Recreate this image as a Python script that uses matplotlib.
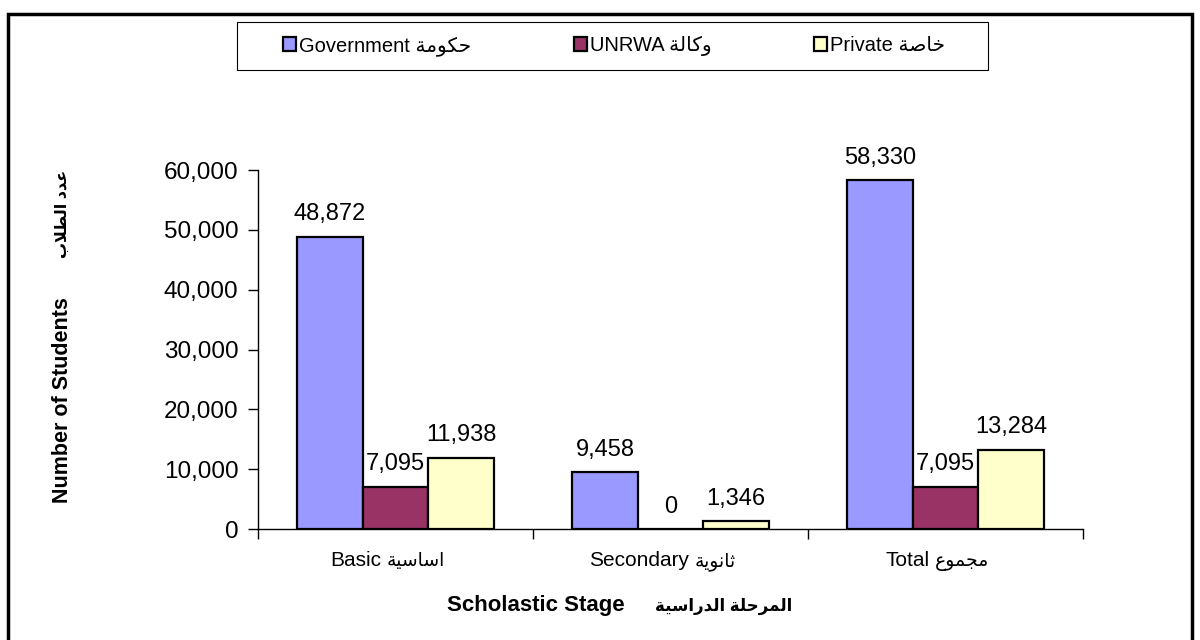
import matplotlib
matplotlib.use("Agg")
import matplotlib.pyplot as plt
from matplotlib.patches import Rectangle
from matplotlib.ticker import FuncFormatter
from matplotlib.offsetbox import TextArea, HPacker, AnnotationBbox
import numpy as np

plt.rcParams['font.family'] = ['Liberation Sans', 'DejaVu Sans']

# data
stages_en = ['Basic', 'Secondary', 'Total']
stages_ar = ['اساسية', 'ثانوية', 'مجموع']
series_en = ['Government', 'UNRWA', 'Private']
series_ar = ['حكومة', 'وكالة', 'خاصة']
government = [48872, 9458, 58330]
unrwa = [7095, 0, 7095]
private = [11938, 1346, 13284]
colors = ['#9999FF', '#993366', '#FFFFCC']

# arabic presentation forms: isolated, final, initial, medial
FORMS = {
    'ا': (0xFE8D, 0xFE8E, None, None),
    'ب': (0xFE8F, 0xFE90, 0xFE91, 0xFE92),
    'ة': (0xFE93, 0xFE94, None, None),
    'ث': (0xFE99, 0xFE9A, 0xFE9B, 0xFE9C),
    'ج': (0xFE9D, 0xFE9E, 0xFE9F, 0xFEA0),
    'ح': (0xFEA1, 0xFEA2, 0xFEA3, 0xFEA4),
    'خ': (0xFEA5, 0xFEA6, 0xFEA7, 0xFEA8),
    'د': (0xFEA9, 0xFEAA, None, None),
    'ر': (0xFEAD, 0xFEAE, None, None),
    'س': (0xFEB1, 0xFEB2, 0xFEB3, 0xFEB4),
    'ص': (0xFEB9, 0xFEBA, 0xFEBB, 0xFEBC),
    'ط': (0xFEC1, 0xFEC2, 0xFEC3, 0xFEC4),
    'ع': (0xFEC9, 0xFECA, 0xFECB, 0xFECC),
    'ك': (0xFED9, 0xFEDA, 0xFEDB, 0xFEDC),
    'ل': (0xFEDD, 0xFEDE, 0xFEDF, 0xFEE0),
    'م': (0xFEE1, 0xFEE2, 0xFEE3, 0xFEE4),
    'ن': (0xFEE5, 0xFEE6, 0xFEE7, 0xFEE8),
    'و': (0xFEED, 0xFEEE, None, None),
    'ي': (0xFEF1, 0xFEF2, 0xFEF3, 0xFEF4),
}


def joins_next(c):
    return c in FORMS and FORMS[c][2] is not None


def ar(text):
    # shape and put in visual order, matplotlib does no bidi
    out = []
    i = 0
    n = len(text)
    while i < n:
        c = text[i]
        if c not in FORMS:
            out.append(c)
            i += 1
            continue
        p = i > 0 and joins_next(text[i - 1])
        if c == 'ل' and i + 1 < n and text[i + 1] == 'ا':
            out.append(chr(0xFEFC if p else 0xFEFB))
            i += 2
            continue
        nj = joins_next(c) and i + 1 < n and text[i + 1] in FORMS
        iso, fin, ini, med = FORMS[c]
        if p and nj:
            f = med
        elif p:
            f = fin
        elif nj:
            f = ini
        else:
            f = iso
        out.append(chr(f))
        i += 1
    return ''.join(reversed(out))


W, H = 1200, 640
fig = plt.figure(figsize=(12, 6.4), dpi=100)
ax = fig.add_axes([258 / W, 1 - 529 / H, (1083 - 258) / W, (529 - 170) / H])

x = np.arange(len(stages_en))
bw = 0.238
handles = []
for k, (vals, col) in enumerate(zip([government, unrwa, private], colors)):
    pos = x + (k - 1) * bw
    bars = ax.bar(pos, vals, bw, color=col, edgecolor='black', linewidth=1.6)
    handles.append(bars)
    for b, v in zip(bars, vals):
        ax.annotate(f'{v:,}', (b.get_x() + bw / 2, v), xytext=(0, 8),
                    textcoords='offset points', ha='center', va='bottom',
                    fontsize=17)

ax.set_xlim(-0.5, 2.5)
ax.set_ylim(0, 60000)
ax.set_yticks(np.arange(0, 60001, 10000))
ax.yaxis.set_major_formatter(FuncFormatter(lambda v, _: f'{int(v):,}'))
ax.set_xticks([-0.5, 0.5, 1.5, 2.5])
ax.set_xticklabels([])
ax.tick_params(axis='x', length=7, width=1)
ax.tick_params(axis='y', length=7, width=1, pad=7, labelsize=17.5)
for s in ['top', 'right']:
    ax.spines[s].set_visible(False)
for s in ['left', 'bottom']:
    ax.spines[s].set_linewidth(1)

# category labels: english + arabic
for xi, en, a in zip(x, stages_en, stages_ar):
    box = HPacker(children=[TextArea(en, textprops=dict(fontsize=15)),
                            TextArea(ar(a), textprops=dict(fontsize=13.5))],
                  sep=4, align='baseline', pad=0)
    ab = AnnotationBbox(box, (xi, 0), xycoords=('data', 'axes fraction'),
                        xybox=(-6, -16), boxcoords='offset points',
                        box_alignment=(0.5, 1), frameon=False)
    ax.add_artist(ab)

# axis titles
fig.text(62 / W, 1 - 400 / H, 'Number of Students', rotation=90,
         ha='center', va='center', fontsize=15.5, fontweight='bold')
fig.text(62 / W, 1 - 214 / H, ar('عدد الطلاب'), rotation=90,
         ha='center', va='center', fontsize=11.5, fontweight='bold')
fig.text(625 / W, 1 - 606 / H, 'Scholastic Stage', ha='right', va='center',
         fontsize=16, fontweight='bold')
fig.text(655 / W, 1 - 606 / H, ar('المرحلة الدراسية'), ha='left',
         va='center', fontsize=12, fontweight='bold')

# legend
labels = [e + ' ' + ar(a) for e, a in zip(series_en, series_ar)]
leg = fig.legend(handles, labels, loc='center', ncol=3,
                 bbox_to_anchor=(614 / W, 1 - 46 / H), frameon=False,
                 fontsize=14.5, handlelength=0.65, handleheight=0.65,
                 handletextpad=0.15, columnspacing=5.1)
fig.patches.append(Rectangle((237 / W, 1 - 70 / H), (988 - 237) / W, 48 / H,
                             transform=fig.transFigure, fill=False,
                             edgecolor='black', linewidth=0.8))

# outer chart border
fig.patches.append(Rectangle((8 / W, -0.05), (1192 - 8) / W, 1.05 - 14 / H,
                             transform=fig.transFigure, fill=False,
                             edgecolor='black', linewidth=2.5))

fig.savefig('out.png', dpi=100)
